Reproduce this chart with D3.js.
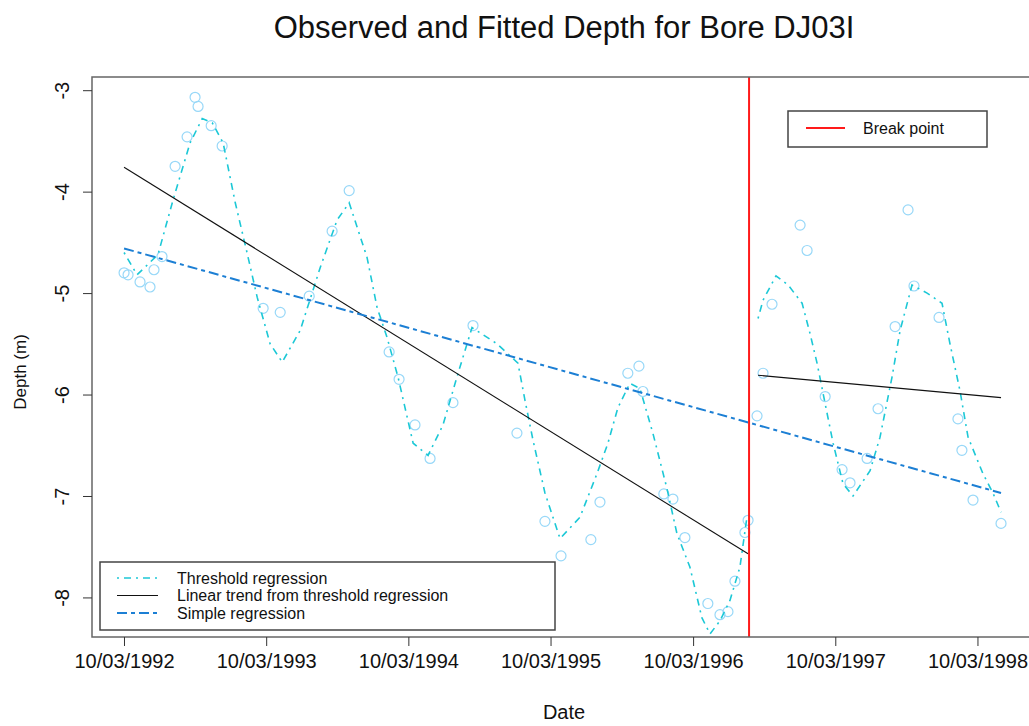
<!DOCTYPE html>
<html>
<head>
<meta charset="utf-8">
<script src="https://cdn.jsdelivr.net/npm/d3@7"></script>
<style>
  body { margin: 0; background: #fff; }
  text { font-family: "Liberation Sans", Arial, sans-serif; fill: #111; }
</style>
</head>
<body>
<script>
// depth readings for bore DJ03I, dates as decimal years

var obsYear = [1992.189, 1992.217, 1992.301, 1992.371, 1992.399, 1992.455, 1992.547, 1992.631,
  1992.687, 1992.708, 1992.800, 1992.877, 1993.165, 1993.285, 1993.489, 1993.650, 1993.770,
  1994.051, 1994.121, 1994.233, 1994.339, 1994.500, 1994.641, 1994.950, 1995.147, 1995.260,
  1995.470, 1995.534, 1995.730, 1995.808, 1995.836, 1995.983, 1996.047, 1996.131, 1996.292,
  1996.377, 1996.433, 1996.482, 1996.552, 1996.574,
  1996.637, 1996.679, 1996.742, 1996.939, 1996.988, 1997.115, 1997.234, 1997.290, 1997.410,
  1997.487, 1997.607, 1997.698, 1997.740, 1997.916, 1998.049, 1998.077, 1998.155, 1998.352];
var obsDepth = [-4.80, -4.82, -4.89, -4.94, -4.77, -4.64, -3.75, -3.46,
  -3.07, -3.16, -3.35, -3.55, -5.15, -5.19, -5.03, -4.39, -3.99,
  -5.58, -5.85, -6.30, -6.63, -6.08, -5.32, -6.38, -7.25, -7.59,
  -7.43, -7.06, -5.79, -5.72, -5.97, -6.98, -7.03, -7.41, -8.06,
  -8.17, -8.14, -7.84, -7.36, -7.24,
  -6.21, -5.79, -5.11, -4.33, -4.58, -6.02, -6.74, -6.87, -6.63,
  -6.14, -5.33, -4.18, -4.93, -5.24, -6.24, -6.55, -7.04, -7.27];

// threshold regression fit, before and after the break
var fit1Year = [1992.189, 1992.280, 1992.427, 1992.533, 1992.652, 1992.737, 1992.807, 1992.884,
  1992.969, 1993.053, 1993.123, 1993.214, 1993.299, 1993.425, 1993.566, 1993.685, 1993.770,
  1993.896, 1993.966, 1994.037, 1994.114, 1994.220, 1994.325, 1994.430, 1994.536, 1994.634,
  1994.810, 1994.957, 1995.007, 1995.063, 1995.147, 1995.253, 1995.393, 1995.513, 1995.590,
  1995.660, 1995.744, 1995.815, 1995.906, 1996.004, 1996.075, 1996.166, 1996.250, 1996.307,
  1996.377, 1996.447, 1996.517, 1996.566];
var fit1Depth = [-4.60, -4.82, -4.62, -4.08, -3.52, -3.28, -3.32, -3.52,
  -4.11, -4.61, -5.04, -5.50, -5.68, -5.37, -4.75, -4.28, -4.11,
  -4.65, -5.14, -5.44, -5.83, -6.48, -6.60, -6.30, -5.79, -5.34,
  -5.50, -5.69, -6.06, -6.45, -6.97, -7.42, -7.21, -6.78, -6.48,
  -6.13, -5.89, -5.94, -6.38, -6.92, -7.37, -7.70, -8.20, -8.36,
  -8.23, -8.03, -7.70, -7.21];
var fit2Year = [1996.644, 1996.679, 1996.770, 1996.855, 1996.953, 1997.009, 1997.058, 1997.115,
  1997.171, 1997.241, 1997.311, 1997.431, 1997.501, 1997.585, 1997.642, 1997.726, 1997.832,
  1997.937, 1997.993, 1998.063, 1998.120, 1998.225, 1998.295, 1998.352];
var fit2Depth = [-5.25, -5.07, -4.83, -4.92, -5.10, -5.40, -5.69, -6.09,
  -6.48, -6.88, -7.00, -6.75, -6.42, -5.83, -5.37, -4.92, -5.00,
  -5.10, -5.50, -5.96, -6.42, -6.78, -6.97, -7.16];

var trend1Year = [1992.189, 1996.574], trend1Depth = [-3.76, -7.57];
var trend2Year = [1996.644, 1998.352], trend2Depth = [-5.81, -6.03];
var simpleYear = [1992.189, 1998.352], simpleDepth = [-4.56, -6.97];
var breakYear = 1996.581;

var xTickLabels = ["10/03/1992", "10/03/1993", "10/03/1994", "10/03/1995",
                   "10/03/1996", "10/03/1997", "10/03/1998"];
var yTicks = [-3, -4, -5, -6, -7, -8];
var xDomainYear = [1991.964, 1998.598];
var yDomain = [-8.39, -2.87];

var legendLabels = ["Threshold regression", "Linear trend from threshold regression", "Simple regression"];

var width = 1029, height = 726;
var margin = {top: 77, right: -7, bottom: 89, left: 92};

function toDate(yr) {
  var y = Math.floor(yr);
  var a = Date.UTC(y, 0, 1), b = Date.UTC(y + 1, 0, 1);
  return new Date(a + (yr - y) * (b - a));
}
function zip(xs, ys) { return xs.map(function(d, i) { return {date: toDate(d), v: ys[i]}; }); }

var svg = d3.select("body").append("svg")
    .attr("width", width)
    .attr("height", height);

var x = d3.scaleUtc()
    .domain(xDomainYear.map(toDate))
    .range([margin.left, width - margin.right]);
var y = d3.scaleLinear()
    .domain(yDomain)
    .range([height - margin.bottom, margin.top]);

var line = d3.line()
    .x(function(d) { return x(d.date); })
    .y(function(d) { return y(d.v); });

var plot = svg.append("g");
plot.append("clipPath").attr("id", "clip")
  .append("rect")
    .attr("x", margin.left).attr("y", margin.top)
    .attr("width", width - margin.right - margin.left)
    .attr("height", height - margin.bottom - margin.top);
var inner = plot.append("g").attr("clip-path", "url(#clip)");

// observed points
inner.selectAll("circle")
  .data(zip(obsYear, obsDepth))
  .enter().append("circle")
    .attr("cx", function(d) { return x(d.date); })
    .attr("cy", function(d) { return y(d.v); })
    .attr("r", 5)
    .attr("fill", "none")
    .attr("stroke", "#98d8f8")
    .attr("stroke-width", 1.2);

[zip(fit1Year, fit1Depth), zip(fit2Year, fit2Depth)].forEach(function(seg) {
  inner.append("path")
    .attr("d", line(seg))
    .attr("fill", "none")
    .attr("stroke", "#1cc8d6")
    .attr("stroke-width", 1.6)
    .attr("stroke-dasharray", "2,5,7,5");
});

[zip(trend1Year, trend1Depth), zip(trend2Year, trend2Depth)].forEach(function(seg) {
  inner.append("path")
    .attr("d", line(seg))
    .attr("fill", "none")
    .attr("stroke", "#111")
    .attr("stroke-width", 1.1);
});

inner.append("path")
    .attr("d", line(zip(simpleYear, simpleDepth)))
    .attr("fill", "none")
    .attr("stroke", "#1c7fd4")
    .attr("stroke-width", 2)
    .attr("stroke-dasharray", "10,4,4,4");

inner.append("line")
    .attr("x1", x(toDate(breakYear))).attr("x2", x(toDate(breakYear)))
    .attr("y1", margin.top).attr("y2", height - margin.bottom)
    .attr("stroke", "#ff1a1a")
    .attr("stroke-width", 2);

// box
plot.append("rect")
    .attr("x", margin.left).attr("y", margin.top)
    .attr("width", width - margin.right - margin.left)
    .attr("height", height - margin.bottom - margin.top)
    .attr("fill", "none")
    .attr("stroke", "#666")
    .attr("stroke-width", 1.5);

// axes
var tickDates = xTickLabels.map(function(s) { return d3.utcParse("%d/%m/%Y")(s); });
var xAxis = svg.append("g")
    .attr("transform", "translate(0," + (height - margin.bottom) + ")")
    .call(d3.axisBottom(x).tickValues(tickDates)
      .tickFormat(d3.utcFormat("%d/%m/%Y")).tickSize(9).tickPadding(8));
xAxis.select(".domain").remove();
xAxis.selectAll("line").attr("stroke", "#333");
xAxis.selectAll("text")
    .style("font-size", "20px")
    .attr("fill", "#111");

var yAxis = svg.append("g")
    .attr("transform", "translate(" + margin.left + ",0)")
    .call(d3.axisLeft(y).tickValues(yTicks).tickSize(9)
      .tickFormat(function(d) { return String(d); }));
yAxis.select(".domain").remove();
yAxis.selectAll("line").attr("stroke", "#333");
yAxis.selectAll("text")
    .style("font-size", "20px")
    .attr("fill", "#111")
    .attr("x", null).attr("dy", null)
    .attr("text-anchor", "middle")
    .attr("transform", "translate(-23,0) rotate(-90)");

// titles
svg.append("text")
    .attr("x", (margin.left + width - margin.right) / 2)
    .attr("y", 38)
    .attr("text-anchor", "middle")
    .style("font-size", "31px")
    .text("Observed and Fitted Depth for Bore DJ03I");

svg.append("text")
    .attr("x", (margin.left + width - margin.right) / 2)
    .attr("y", 719)
    .attr("text-anchor", "middle")
    .style("font-size", "20px")
    .text("Date");

svg.append("text")
    .attr("transform", "translate(26,372) rotate(-90)")
    .attr("text-anchor", "middle")
    .style("font-size", "17px")
    .text("Depth (m)");

// legend, bottom left
var leg = svg.append("g").attr("transform", "translate(100,562)");
leg.append("rect")
    .attr("width", 455).attr("height", 68)
    .attr("fill", "#fff")
    .attr("stroke", "#444")
    .attr("stroke-width", 1.5);
var legStyles = [
  {stroke: "#1cc8d6", width: 1.6, dash: "2,5,7,5"},
  {stroke: "#111", width: 1.1, dash: null},
  {stroke: "#1c7fd4", width: 2, dash: "10,4,4,4"}
];
var rows = leg.selectAll("g.row")
  .data(legendLabels)
  .enter().append("g")
    .attr("class", "row")
    .attr("transform", function(d, i) { return "translate(0," + (16 + i * 17.5) + ")"; });
rows.append("line")
    .attr("x1", 17).attr("x2", 58)
    .attr("stroke", function(d, i) { return legStyles[i].stroke; })
    .attr("stroke-width", function(d, i) { return legStyles[i].width; })
    .attr("stroke-dasharray", function(d, i) { return legStyles[i].dash; });
rows.append("text")
    .attr("x", 77)
    .attr("dy", "0.36em")
    .style("font-size", "16px")
    .text(function(d) { return d; });

// legend, break point
var leg2 = svg.append("g").attr("transform", "translate(788,111)");
leg2.append("rect")
    .attr("width", 199).attr("height", 36)
    .attr("fill", "#fff")
    .attr("stroke", "#444")
    .attr("stroke-width", 1.5);
leg2.append("line")
    .attr("x1", 18).attr("x2", 57)
    .attr("y1", 17).attr("y2", 17)
    .attr("stroke", "#ff1a1a")
    .attr("stroke-width", 2);
leg2.append("text")
    .attr("x", 75).attr("y", 17)
    .attr("dy", "0.36em")
    .style("font-size", "16px")
    .text("Break point");
</script>
</body>
</html>
